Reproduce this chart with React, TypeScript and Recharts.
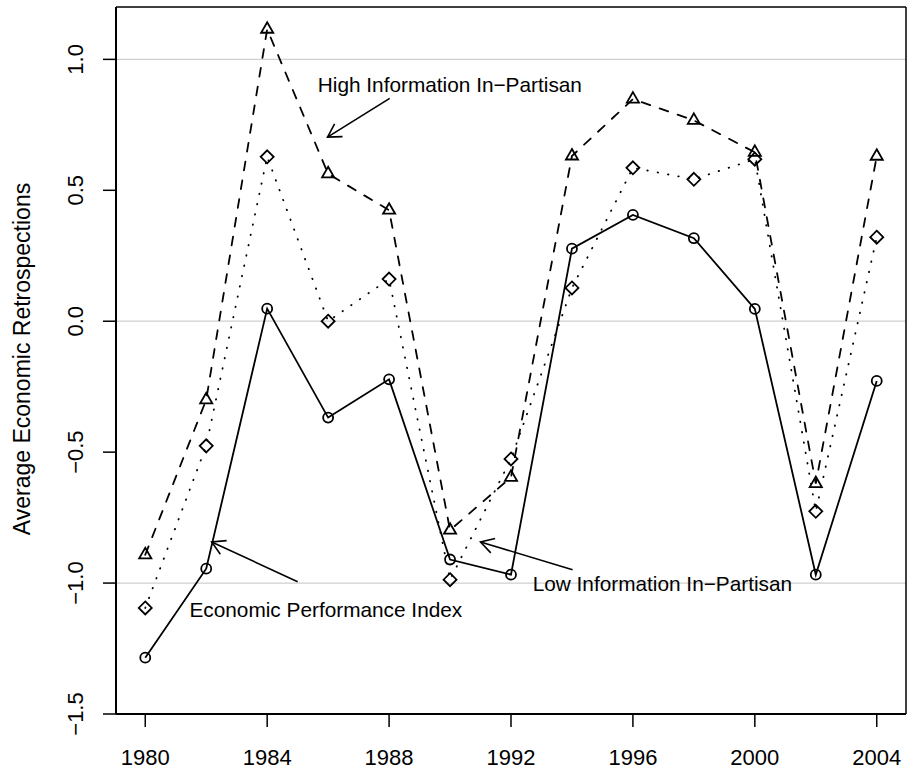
import React from 'react';
import {
  LineChart, Line, XAxis, YAxis, CartesianGrid, ReferenceLine, ReferenceDot,
} from 'recharts';

// election years and the three series
const years = [1980, 1982, 1984, 1986, 1988, 1990, 1992, 1994, 1996, 1998, 2000, 2002, 2004];
const economicIndex = [-1.285, -0.945, 0.048, -0.368, -0.222, -0.91, -0.968, 0.277, 0.406, 0.317, 0.047, -0.968, -0.228];
const lowInfo = [-1.095, -0.476, 0.628, 0.0, 0.161, -0.987, -0.526, 0.127, 0.586, 0.542, 0.619, -0.726, 0.321];
const highInfo = [-0.892, -0.3, 1.115, 0.563, 0.424, -0.798, -0.596, 0.631, 0.848, 0.767, 0.645, -0.62, 0.63];

const xTicks = [1980, 1984, 1988, 1992, 1996, 2000, 2004];
const yTicks = [-1.5, -1, -0.5, 0, 0.5, 1];
const gridValues = [-1, 0, 1];

// annotation text + arrow (data coords)
const notes = [
  { text: 'High Information In\u2212Partisan', x: 1985.66, y: 0.874, from: [1988.02, 0.851], to: [1985.98, 0.703] },
  { text: 'Economic Performance Index', x: 1981.45, y: -1.128, from: [1985.0, -0.995], to: [1982.18, -0.843] },
  { text: 'Low Information In\u2212Partisan', x: 1992.71, y: -1.029, from: [1994.02, -0.949], to: [1991.0, -0.843] },
];

const rows = years.map((year, i) => ({
  year,
  epi: economicIndex[i],
  low: lowInfo[i],
  high: highInfo[i],
}));

const FONT = '"Liberation Sans", Arial, Helvetica, sans-serif';
const X_MIN = 1979.04;
const X_MAX = 2004.96;
const Y_MIN = -1.5;
const Y_MAX = 1.2;

const fmtY = (v: number) => (v < 0 ? '\u2212' : '') + Math.abs(v).toFixed(1);

const XTick = ({ x, y, payload }: any) => (
  <text x={x} y={y + 36} textAnchor="middle" fontSize={22} fontFamily={FONT} fill="#000">
    {payload.value}
  </text>
);

const YTick = ({ x, y, payload }: any) => {
  const cx = x - 26;
  return (
    <text x={cx} y={y} dy={8} transform={`rotate(-90 ${cx} ${y})`} textAnchor="middle"
      fontSize={22} fontFamily={FONT} fill="#000">
      {fmtY(payload.value)}
    </text>
  );
};

const circleDot = (p: any) => (
  <circle key={`c${p.index}`} cx={p.cx} cy={p.cy} r={5} fill="none" stroke="#000" strokeWidth={1.8} />
);

const diamondDot = (p: any) => {
  const s = 6.5;
  return (
    <polygon key={`d${p.index}`}
      points={`${p.cx},${p.cy - s} ${p.cx + s},${p.cy} ${p.cx},${p.cy + s} ${p.cx - s},${p.cy}`}
      fill="none" stroke="#000" strokeWidth={1.8} />
  );
};

const triangleDot = (p: any) => {
  const r = 7;
  const hw = r * 0.866;
  return (
    <polygon key={`t${p.index}`}
      points={`${p.cx},${p.cy - r} ${p.cx + hw},${p.cy + r / 2} ${p.cx - hw},${p.cy + r / 2}`}
      fill="none" stroke="#000" strokeWidth={1.8} />
  );
};

const Arrow = (p: any) => {
  const { x1, y1, x2, y2 } = p;
  const ang = Math.atan2(y2 - y1, x2 - x1);
  const len = 15;
  const a1 = ang + Math.PI - Math.PI / 6;
  const a2 = ang + Math.PI + Math.PI / 6;
  return (
    <g>
      <line x1={x1} y1={y1} x2={x2} y2={y2} stroke="#000" strokeWidth={1.6} />
      <polyline
        points={`${x2 + len * Math.cos(a1)},${y2 + len * Math.sin(a1)} ${x2},${y2} ${x2 + len * Math.cos(a2)},${y2 + len * Math.sin(a2)}`}
        fill="none" stroke="#000" strokeWidth={1.6} />
    </g>
  );
};

export default function App() {
  return (
    <div style={{ position: 'absolute', left: 0, top: 0, width: 909, height: 773, background: '#fff' }}>
      <LineChart width={909} height={773} data={rows} margin={{ top: 7, right: 3, left: 0, bottom: 0 }}>
        <CartesianGrid horizontal vertical={false} horizontalValues={gridValues} stroke="#cfcfcf" strokeWidth={1.2} />
        <XAxis
          dataKey="year" type="number" domain={[X_MIN, X_MAX]} ticks={xTicks} allowDataOverflow
          height={59} tickSize={13} tick={<XTick />}
          axisLine={{ stroke: '#000', strokeWidth: 2 }} tickLine={{ stroke: '#000', strokeWidth: 1.5 }}
        />
        <YAxis
          type="number" domain={[Y_MIN, Y_MAX]} ticks={yTicks} allowDataOverflow
          width={116} tickSize={13} tick={<YTick />}
          axisLine={{ stroke: '#000', strokeWidth: 2 }} tickLine={{ stroke: '#000', strokeWidth: 1.5 }}
          label={() => (
            <text x={30} y={359} transform="rotate(-90 30 359)" textAnchor="middle"
              fontSize={23} fontFamily={FONT} fill="#000">
              Average Economic Retrospections
            </text>
          )}
        />
        <ReferenceLine y={Y_MAX} stroke="#000" strokeWidth={1.5} />
        <ReferenceLine x={X_MAX} stroke="#000" strokeWidth={1.5} />

        <Line dataKey="high" type="linear" stroke="#000" strokeWidth={1.8} strokeDasharray="9 10"
          strokeLinecap="round" dot={triangleDot} activeDot={false} isAnimationActive={false} />
        <Line dataKey="low" type="linear" stroke="#000" strokeWidth={1.8} strokeDasharray="0.5 10"
          strokeLinecap="round" dot={diamondDot} activeDot={false} isAnimationActive={false} />
        <Line dataKey="epi" type="linear" stroke="#000" strokeWidth={1.8}
          dot={circleDot} activeDot={false} isAnimationActive={false} />

        {notes.map((n) => (
          <ReferenceLine key={`a-${n.text}`} segment={[{ x: n.from[0], y: n.from[1] }, { x: n.to[0], y: n.to[1] }]}
            shape={Arrow} />
        ))}
        {notes.map((n) => (
          <ReferenceDot key={`t-${n.text}`} x={n.x} y={n.y} r={0}
            shape={(p: any) => (
              <text x={p.cx} y={p.cy} textAnchor="start" fontSize={20.8} fontFamily={FONT} fill="#000">
                {n.text}
              </text>
            )} />
        ))}
      </LineChart>
    </div>
  );
}
